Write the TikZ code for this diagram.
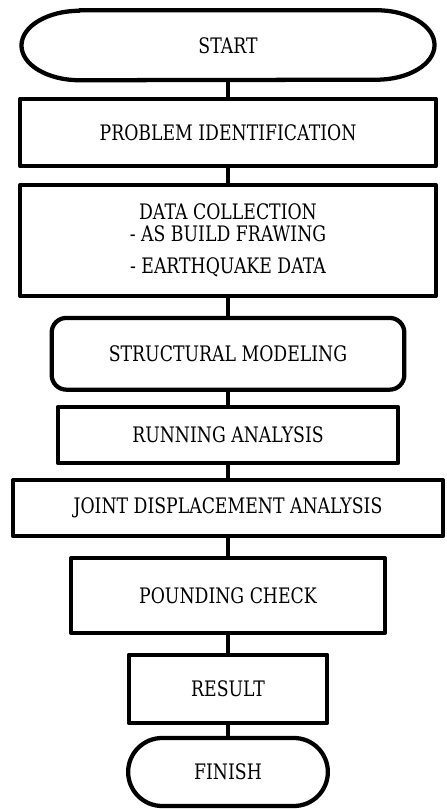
\documentclass[tikz,border=0pt]{standalone}
\usepackage{fontspec}
\setmainfont[FakeStretch=0.81]{DejaVu Serif}
\usetikzlibrary{positioning,calc}

\begin{document}
\begin{tikzpicture}[x=0.75pt,y=0.75pt]
\pgfmathsetmacro{\mx}{228}
\pgfmathsetmacro{\rx}{43.5}
\pgfmathsetmacro{\ry}{26.05}

\tikzset{
flowlabel/.style={inner sep=0pt,align=center,font=\fontsize{16}{16.5}\selectfont},
flowbox/.style={flowlabel,draw,line width=3.2pt,line join=round},
flowline/.style={line width=3.2pt,line join=round}
}

\useasboundingbox (0,0) rectangle (446,809);

\node[flowlabel,minimum width=309.4pt,minimum height=52.1pt] (start) at (\mx,763.75) {START};
\draw[flowline]
([xshift=\rx pt]start.north west) -- ([xshift=-\rx pt]start.north east)
arc[start angle=90,end angle=-90,x radius=\rx pt,y radius=\ry pt]
-- ([xshift=\rx pt]start.south west)
arc[start angle=270,end angle=90,x radius=\rx pt,y radius=\ry pt] -- cycle;

\node[flowbox,minimum width=311.6pt,minimum height=50.7pt] (ident) at (\mx,676.5) {PROBLEM IDENTIFICATION};
\node[flowbox,minimum width=311.6pt,minimum height=83.25pt] (data) at (\mx,568.5)
{DATA COLLECTION\\- AS BUILD FRAWING\\[7.5pt]- EARTHQUAKE DATA};
\node[flowbox,rounded corners=11pt,minimum width=264.5pt,minimum height=53.8pt] (model) at (\mx,455.2) {STRUCTURAL MODELING};
\node[flowbox,minimum width=255.3pt,minimum height=42pt] (running) at (\mx,374) {RUNNING ANALYSIS};
\node[flowbox,minimum width=322.5pt,minimum height=41.8pt] (joint) at (\mx,300.8) {JOINT DISPLACEMENT ANALYSIS};
\node[flowbox,minimum width=235pt,minimum height=56.25pt] (pounding) at (\mx,213.5) {POUNDING CHECK};
\node[flowbox,minimum width=149pt,minimum height=51.2pt] (result) at (\mx,120.2) {RESULT};
\node[flowbox,rounded corners=25.5pt,minimum width=149.8pt,minimum height=51pt] (finish) at (\mx,37) {FINISH};

\foreach \a/\b in {start/ident,ident/data,data/model,model/running,running/joint,joint/pounding,pounding/result,result/finish} {
\draw[flowline] (\a.south) -- (\b.north);
}
\end{tikzpicture}
\end{document}
